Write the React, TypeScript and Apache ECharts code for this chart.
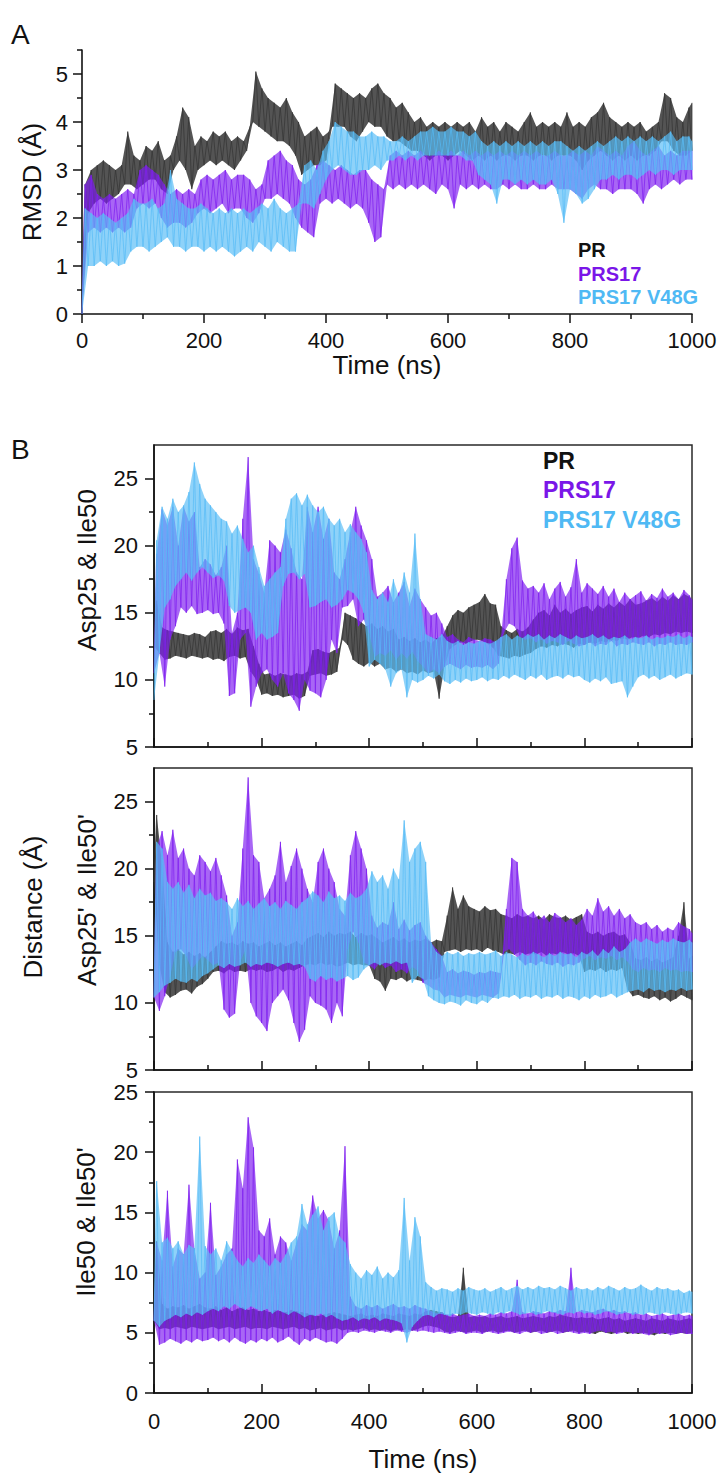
import React, { useEffect, useRef } from "react";
import * as echarts from "echarts";

// ---- sampling grid (ns) of the read-off envelopes ----
const timeNs: number[] = Array.from({ length: 101 }, (_, i) => i * 10);

// ---- tick values ----
const xMajorTicks = [0, 200, 400, 600, 800, 1000];
const rmsdMajorTicks = [0, 1, 2, 3, 4, 5];
const rmsdMinorTicks = [0.5, 1.5, 2.5, 3.5, 4.5, 5.5];
const distMajorTicks = [5, 10, 15, 20, 25];
const distMinorTicks = [7.5, 12.5, 17.5, 22.5];
const ileMajorTicks = [0, 5, 10, 15, 20, 25];
const ileMinorTicks = [2.5, 7.5, 12.5, 17.5, 22.5];

const seriesNames = ["PR", "PRS17", "PRS17 V48G"];

// ---- Panel A: RMSD (Å), upper / lower envelope every 10 ns ----
const rmsdPRHi = [
  2.7, 3.0, 3.1, 3.2, 3.1, 3.0, 3.1, 3.8, 3.3, 3.2,
  3.5, 3.4, 3.6, 3.2, 3.3, 3.7, 4.3, 4.1, 3.5, 3.7,
  3.6, 3.8, 3.7, 3.8, 3.6, 3.7, 3.6, 3.9, 5.05, 4.7,
  4.5, 4.4, 4.3, 4.5, 4.2, 4.0, 3.7, 3.8, 3.9, 3.7,
  3.8, 4.8, 4.7, 4.6, 4.5, 4.6, 4.5, 4.7, 4.8, 4.6,
  4.5, 4.3, 4.4, 4.2, 4.0, 4.1, 3.9, 4.0, 3.9, 4.0,
  3.9, 4.0, 3.9, 4.0, 3.8, 4.1, 3.9, 4.0, 3.8, 4.0,
  3.9, 3.8, 4.0, 4.2, 3.9, 4.0, 3.9, 4.0, 3.9, 4.2,
  3.9, 4.0, 3.9, 4.1, 4.2, 4.4, 4.1, 4.0, 3.9, 4.0,
  3.9, 4.0, 3.8, 3.9, 4.0, 4.6, 4.5, 4.1, 4.0, 4.3,
  4.4,
];
const rmsdPRLo = [
  0, 2.1, 2.3, 2.4, 2.3, 2.4, 2.5, 2.7, 2.7, 2.6,
  2.7, 2.8, 2.8, 2.6, 2.5, 3.0, 3.2, 3.0, 2.6, 3.0,
  3.1, 3.2, 3.1, 3.2, 3.1, 3.0, 3.2, 3.4, 4.0, 3.9,
  3.8, 3.7, 3.6, 3.6, 3.5, 3.3, 2.9, 3.0, 3.1, 3.1,
  3.2, 3.9, 3.9, 3.9, 3.7, 3.6, 3.8, 4.0, 3.9, 3.9,
  3.7, 3.6, 3.6, 3.5, 3.4, 3.4, 3.3, 3.2, 3.3, 3.3,
  3.2, 3.3, 3.4, 3.3, 3.2, 3.3, 3.2, 3.3, 3.2, 3.3,
  3.3, 3.2, 3.3, 3.3, 3.2, 3.3, 3.3, 3.2, 3.3, 3.3,
  3.3, 3.2, 3.0, 3.2, 3.3, 3.4, 3.3, 3.2, 3.3, 3.2,
  3.3, 3.2, 3.3, 3.3, 3.4, 3.6, 3.6, 3.4, 3.3, 3.3,
  3.4,
];
const rmsdS17Hi = [
  2.7, 2.9, 2.5, 2.4, 2.5, 2.4, 2.5, 2.6, 2.5, 3.0,
  3.1, 3.0, 2.9, 2.7, 2.5, 2.6, 2.5, 2.6, 2.5, 2.8,
  2.9, 2.8, 2.9, 3.0, 2.8, 2.9, 2.9, 2.8, 2.6, 2.7,
  3.2, 3.3, 3.4, 3.2, 3.1, 2.8, 2.7, 2.8, 3.1, 3.2,
  3.1, 3.0, 3.1, 3.0, 2.9, 3.0, 3.0, 2.8, 2.7, 2.6,
  3.3, 3.4, 3.3, 3.4, 3.3, 3.4, 3.3, 3.3, 3.4, 3.3,
  3.4, 3.3, 3.4, 3.3, 3.4, 3.3, 3.4, 3.3, 3.4, 3.3,
  3.4, 3.3, 3.4, 3.3, 3.4, 3.3, 3.3, 3.4, 3.3, 3.3,
  3.4, 3.3, 3.4, 3.3, 3.5, 3.4, 3.3, 3.4, 3.3, 3.5,
  3.6, 3.4, 3.3, 3.4, 3.5, 3.3, 3.4, 3.3, 3.4, 3.4,
  3.4,
];
const rmsdS17Lo = [
  0, 1.7, 1.8, 1.7, 1.8, 1.7, 1.8, 1.7, 1.8, 2.2,
  2.3, 2.2, 2.3, 2.0, 1.8, 1.9, 1.9, 1.8, 1.9, 2.1,
  2.2, 2.1, 2.2, 2.3, 2.1, 2.2, 2.2, 2.0, 1.9, 2.1,
  2.4, 2.4, 2.5, 2.4, 2.3, 2.0, 1.8, 1.7, 1.6, 2.3,
  2.4, 2.3, 2.4, 2.3, 2.2, 2.3, 2.2, 1.9, 1.5, 1.6,
  2.7, 2.6, 2.7, 2.6, 2.7, 2.6, 2.7, 2.6, 2.5, 2.7,
  2.6, 2.2, 2.7, 2.6, 2.7, 2.6, 2.7, 2.6, 2.6, 2.7,
  2.6, 2.7, 2.6, 2.6, 2.7, 2.6, 2.6, 2.7, 2.6, 2.6,
  2.6, 2.5, 2.4, 2.6, 2.7, 2.6, 2.6, 2.5, 2.6, 2.6,
  2.6, 2.5, 2.3, 2.6, 2.7, 2.6, 2.7, 2.8, 2.7, 2.8,
  2.8,
];
const rmsdV48GHi = [
  2.2, 2.1, 2.0, 2.1, 2.0, 1.9, 2.0, 2.1, 2.4, 2.3,
  2.3, 2.4, 2.2, 2.3, 3.0, 2.4, 2.3, 2.2, 2.2, 2.3,
  2.2, 2.1, 2.2, 2.1, 2.2, 2.1, 2.2, 2.1, 2.2, 2.3,
  2.2, 2.4, 2.2, 2.1, 2.2, 2.3, 3.1, 3.2, 3.0, 3.4,
  3.6, 4.0, 3.9, 3.8, 3.8, 3.7, 3.7, 3.8, 3.7, 3.7,
  3.6, 3.6, 3.7, 3.6, 3.7, 3.8, 3.8, 3.9, 3.8, 3.8,
  3.9, 3.8, 3.8, 3.7, 3.8, 3.6, 3.5, 3.6, 3.5, 3.6,
  3.5, 3.6, 3.5, 3.6, 3.5, 3.6, 3.5, 3.6, 3.6, 3.5,
  3.4, 3.5, 3.4, 3.5, 3.6, 3.5, 3.6, 3.7, 3.6, 3.7,
  3.6, 3.7, 3.6, 3.7, 3.6, 3.7, 3.8, 3.6, 3.7, 3.7,
  3.6,
];
const rmsdV48GLo = [
  0, 1.0, 1.0, 1.1, 1.0, 1.1, 1.0, 1.05, 1.3, 1.4,
  1.4, 1.3, 1.4, 1.5, 1.6, 1.4, 1.4, 1.3, 1.4, 1.4,
  1.3, 1.4, 1.3, 1.4, 1.3, 1.2, 1.3, 1.4, 1.3, 1.5,
  1.4, 1.3, 1.5, 1.4, 1.3, 1.3, 2.3, 2.3, 2.2, 2.5,
  2.8, 3.0, 3.1, 3.0, 2.9, 2.9, 3.0, 3.0, 3.1, 3.0,
  3.2, 3.2, 3.3, 3.2, 3.3, 3.2, 3.3, 3.3, 3.3, 3.3,
  3.3, 3.3, 3.3, 3.2, 3.2, 2.9, 2.8, 2.7, 2.3, 2.8,
  2.8, 2.7, 2.8, 2.7, 2.8, 2.7, 2.7, 2.8, 2.5, 1.9,
  2.6, 2.5, 2.3, 2.4, 2.6, 2.8, 2.8, 2.9, 2.8, 2.9,
  2.9, 2.8, 2.9, 3.0, 2.9, 3.0, 3.0, 2.9, 3.0, 3.0,
  3.0,
];

// ---- Panel B1: Asp25 & Ile50 distance (Å) ----
const b1PRHi = [
  15.9, 13.9, 13.7, 13.6, 13.5, 13.4, 13.3, 13.5, 13.4, 13.2,
  13.6, 13.7, 13.5, 13.8, 13.4, 13.9, 13.7, 13.8, 12.5, 11.2,
  10.4, 10.5, 10.3, 10.5, 10.4, 10.3, 10.5, 10.4, 10.6, 12.2,
  12.3, 12.1, 12.0, 12.2, 12.4, 15.0, 14.8, 14.6, 14.3, 14.0,
  14.2, 13.8, 14.0, 13.6, 13.8, 13.0, 13.2, 12.9, 13.1, 12.8,
  13.0, 12.7, 13.1, 13.2, 14.0, 14.8, 15.2, 15.0, 15.4, 15.6,
  15.8, 16.4, 15.7, 15.6, 14.0, 13.7, 13.5, 13.8, 13.6, 13.9,
  14.5, 15.0, 15.2, 14.8, 15.6, 15.0, 15.3, 14.9, 15.2, 15.4,
  15.5, 15.1, 15.6, 15.3, 15.7, 15.4, 15.8, 15.5, 16.0, 15.6,
  15.7, 15.9, 16.1, 15.8, 16.2, 15.9, 16.3, 16.0, 16.4, 16.2,
  16.0,
];
const b1PRLo = [
  12.5, 12.0, 11.5, 11.6, 11.8, 11.7, 11.6, 11.8, 11.7, 11.6,
  11.7, 11.5, 11.6, 11.4, 11.7, 11.8, 11.6, 11.7, 10.6, 10.0,
  8.9, 9.0, 8.8, 8.9, 8.7, 8.8, 8.9, 8.6, 8.8, 10.3,
  10.4, 10.5, 10.3, 10.4, 10.6, 13.0, 12.6, 11.5, 11.2, 11.0,
  11.3, 11.0, 11.2, 10.8, 10.9, 10.6, 10.8, 10.5, 10.6, 10.4,
  10.7, 10.5, 10.6, 8.6, 11.0, 12.3, 12.6, 12.8, 12.7, 12.9,
  13.0, 12.9, 12.7, 12.4, 11.8, 11.7, 11.6, 11.8, 11.7, 11.9,
  12.0, 12.3, 12.5, 12.4, 12.6, 12.5, 12.7, 12.6, 12.4, 12.7,
  12.6, 12.8, 12.7, 12.9, 12.8, 13.0, 12.9, 13.1, 13.0, 13.2,
  13.1, 13.3, 13.2, 13.4, 13.3, 13.5, 13.4, 13.6, 13.5, 13.6,
  13.5,
];
const b1S17Hi = [
  19.4, 22.7, 21.5, 22.9, 20.0, 22.9, 21.8, 22.5, 18.4, 19.0,
  18.6, 17.8, 18.4, 20.0, 13.5, 15.0, 22.0, 26.6, 19.0, 17.9,
  16.5, 20.4, 20.0, 19.5, 21.2, 19.8, 18.0, 17.5, 22.9, 21.0,
  22.9, 20.5, 22.0, 18.0, 17.5, 19.0, 21.0, 22.9, 21.5, 20.4,
  19.0, 16.2, 16.5, 17.0, 15.8, 16.5, 17.3, 15.5, 16.8, 16.0,
  15.4, 14.8, 15.0, 14.2, 13.2, 13.4, 13.0, 12.8, 13.2, 13.0,
  12.9, 13.1, 13.0, 12.8, 13.2, 17.5, 19.8, 20.6, 17.4, 16.8,
  17.0, 16.5, 17.2, 16.0, 16.8, 17.3, 16.2, 16.9, 19.0, 16.5,
  17.2, 16.8, 16.4, 17.0, 16.2, 16.8, 15.8, 16.5, 16.0, 16.3,
  16.6, 15.9, 16.4, 16.1, 16.8, 16.2, 16.5, 16.0, 16.7, 16.3,
  16.0,
];
const b1S17Lo = [
  10.5, 12.0, 9.5, 13.0, 14.0, 15.4, 15.0, 15.5, 14.9, 15.0,
  15.2, 14.9, 15.0, 14.2, 8.8, 9.0, 13.0, 13.5, 8.0, 9.5,
  10.5, 10.8, 10.0, 9.5, 10.5, 9.0, 8.5, 7.7, 10.0, 9.2,
  9.0, 8.7, 10.0, 13.0, 12.0, 15.4, 15.5, 16.0, 14.0, 14.5,
  13.5, 11.7, 12.0, 11.8, 12.2, 11.5, 12.0, 11.6, 12.1, 11.4,
  11.0, 10.5, 10.8, 10.5, 11.0, 11.2, 11.0, 10.8, 11.1, 10.9,
  11.0, 10.9, 11.1, 10.8, 11.2, 13.5, 14.2, 14.0, 13.2, 13.0,
  13.1, 12.8, 13.0, 12.7, 12.9, 12.8, 12.6, 12.9, 12.7, 12.5,
  12.6, 12.8, 12.5, 12.7, 12.6, 12.9, 12.5, 12.7, 12.6, 12.8,
  12.7, 12.6, 12.8, 12.5, 12.7, 12.6, 12.8, 12.6, 12.7, 12.6,
  12.8,
];
const b1V48GHi = [
  20.4, 22.9, 22.0, 23.5, 22.5, 23.0, 24.0, 26.2, 24.6, 23.5,
  23.0, 22.5, 22.0, 21.8, 20.9, 21.5, 20.5, 19.5, 20.0, 18.4,
  17.0, 17.5, 18.0, 18.4, 22.0, 23.5, 23.9, 23.0, 23.8, 23.0,
  22.5, 22.9, 22.0, 21.5, 22.0, 21.0, 21.6, 21.0, 20.5, 19.5,
  16.7, 16.0, 16.5, 15.8, 17.5, 16.2, 18.0, 16.5, 20.9, 16.0,
  13.4, 13.2, 13.0, 13.4, 12.9, 12.7, 12.9, 12.6, 12.8, 12.7,
  12.9, 12.8, 12.7, 12.9, 13.2, 13.4, 13.0, 13.3, 13.1, 13.4,
  13.2, 13.4, 13.0, 13.3, 13.1, 13.4, 13.2, 13.0, 13.3, 13.1,
  13.2, 13.4, 13.1, 13.3, 13.0, 13.2, 13.1, 13.3, 13.0, 13.2,
  13.1, 13.3, 13.0, 13.2, 13.1, 13.3, 13.2, 13.4, 13.1, 13.3,
  13.2,
];
const b1V48GLo = [
  8.5, 12.0, 15.4, 16.0, 17.0, 17.5, 18.0, 17.4, 18.0, 18.4,
  18.0, 17.6, 17.8, 17.4, 15.5, 15.0, 15.2, 15.4, 15.0, 13.0,
  13.5, 13.0, 13.2, 13.5, 17.0, 17.9, 18.0, 17.5, 17.9, 15.4,
  15.5, 15.8, 16.0, 15.4, 15.6, 16.0, 16.7, 16.5, 16.0, 15.0,
  11.0, 11.5, 11.2, 10.8, 9.5, 10.5, 10.8, 8.7, 10.0, 9.8,
  10.0, 10.3, 10.1, 10.4, 9.9, 9.7, 10.0, 9.8, 10.1, 9.9,
  10.0, 10.2, 9.9, 10.1, 10.0, 10.3, 10.1, 10.4, 10.2, 10.0,
  10.3, 10.1, 10.4, 10.0, 10.2, 10.3, 10.1, 10.4, 10.2, 10.3,
  10.0, 9.8, 10.1, 9.9, 10.2, 9.7, 9.8, 9.9, 8.7, 9.5,
  10.2, 10.4, 10.1, 10.3, 10.0, 10.2, 10.4, 10.1, 10.3, 10.5,
  10.4,
];

// ---- Panel B2: Asp25' & Ile50' distance (Å) ----
const b2PRHi = [
  24.0, 20.3, 14.5, 13.8, 14.0, 13.6, 13.8, 13.5, 13.7, 13.4,
  13.8, 14.2, 14.6, 14.4, 14.5, 14.3, 14.6, 14.4, 14.5, 14.2,
  14.4, 14.6, 14.3, 14.5, 14.2, 14.4, 14.6, 14.3, 14.8, 15.0,
  15.2, 14.9, 15.3, 15.0, 15.2, 15.1, 15.3, 14.9, 15.2, 15.0,
  15.1, 14.8, 14.5, 14.7, 14.9, 14.6, 14.8, 14.5, 14.7, 14.6,
  14.8, 14.5, 14.7, 14.6, 16.5, 18.6, 17.0, 18.0, 17.2, 17.0,
  16.8, 17.2, 16.9, 17.0, 16.6, 16.5, 16.3, 16.6, 16.4, 16.5,
  16.3, 16.5, 16.2, 16.6, 16.4, 16.3, 16.5, 16.2, 16.4, 16.6,
  15.3, 15.1, 15.3, 15.0, 15.2, 15.3, 15.0, 15.1, 14.5, 13.3,
  13.2, 13.4, 13.1, 13.3, 13.0, 13.2, 13.4, 15.0, 17.5, 13.3,
  13.5,
];
const b2PRLo = [
  19.0, 12.8, 10.8, 10.4, 10.6, 10.9, 11.0, 10.7, 11.2, 11.4,
  11.8, 12.3, 12.4, 12.2, 12.5, 12.3, 12.4, 12.3, 12.5, 12.4,
  12.5, 12.3, 12.4, 12.6, 12.3, 12.5, 12.4, 12.6, 12.8, 12.9,
  12.8, 13.0, 12.8, 12.9, 12.7, 12.8, 13.0, 12.8, 12.9, 12.8,
  12.8, 11.8, 11.6, 10.9, 11.8, 11.7, 11.9, 11.6, 11.8, 11.7,
  11.6, 11.8, 11.7, 11.9, 13.8, 13.9, 14.0, 13.8, 14.0, 13.9,
  14.0, 13.8, 14.1, 13.9, 13.8, 13.6, 13.7, 13.6, 13.8, 13.6,
  13.7, 13.6, 13.8, 13.5, 13.7, 13.6, 13.8, 13.6, 13.7, 13.5,
  12.3, 12.5, 12.4, 12.6, 12.3, 12.5, 12.4, 12.6, 11.0, 10.5,
  10.6, 10.4, 10.3, 10.5, 10.2, 10.4, 10.1, 10.3, 10.6, 10.4,
  10.2,
];
const b2S17Hi = [
  21.6, 22.8, 21.0, 22.9, 20.8, 21.5, 20.0, 19.5, 21.0, 20.5,
  19.8, 20.8, 19.5, 18.0, 15.0, 16.0, 21.5, 26.8, 21.0, 20.5,
  17.8, 18.5, 19.5, 22.0, 19.0, 20.2, 21.5, 20.0, 18.5, 17.5,
  20.5, 21.5, 20.0, 19.0, 17.0, 16.5, 21.0, 22.8, 21.5, 20.0,
  16.5, 15.6, 16.0, 15.8, 17.5, 15.5, 16.2, 15.4, 15.8, 16.0,
  15.0, 14.5, 14.0, 13.5, 12.3, 12.5, 12.2, 12.4, 12.3, 12.1,
  12.3, 12.2, 12.4, 12.3, 12.2, 17.0, 20.8, 20.5, 17.0, 16.5,
  16.8, 16.2, 16.5, 16.0, 16.7, 16.4, 16.0, 16.3, 15.8, 16.2,
  17.0, 16.5, 17.8, 16.8, 17.2, 16.5, 17.0, 16.3, 16.6, 16.0,
  15.8, 16.0, 15.5, 15.8, 15.3, 15.6, 15.4, 16.0, 15.7, 15.5,
  15.2,
];
const b2S17Lo = [
  10.4, 9.4, 10.5, 12.0, 13.8, 14.0, 13.5, 12.5, 13.0, 13.5,
  13.2, 12.8, 13.0, 9.5, 8.9, 9.2, 13.0, 14.0, 10.0, 9.0,
  8.5, 7.9, 10.0, 10.5, 11.0, 10.2, 8.5, 7.1, 8.0, 10.5,
  10.0, 9.8, 9.5, 8.5, 10.0, 9.0, 14.0, 15.3, 14.5, 13.0,
  12.8, 12.5, 13.0, 12.6, 12.8, 12.3, 12.5, 12.2, 12.7, 12.4,
  11.5, 11.3, 11.0, 10.9, 10.4, 10.6, 10.5, 10.4, 10.6, 10.5,
  10.4, 10.6, 10.5, 10.4, 10.7, 13.8, 14.0, 13.6, 13.2, 12.8,
  13.0, 12.8, 13.1, 12.9, 12.8, 13.0, 12.7, 12.9, 12.8, 13.0,
  13.3, 13.5, 13.2, 13.4, 13.3, 13.5, 13.2, 13.4, 13.1, 12.5,
  12.3, 12.6, 12.4, 12.5, 12.3, 12.6, 12.4, 12.5, 12.3, 12.4,
  12.3,
];
const b2V48GHi = [
  22.0, 21.5, 19.0, 18.5, 19.0, 18.2, 18.8, 17.8, 18.5, 18.0,
  18.2, 17.6, 17.8, 17.5, 17.0, 17.8, 17.2, 17.6, 17.0, 17.4,
  17.8, 17.2, 17.5, 17.0, 17.6, 17.3, 17.0, 17.5, 17.8, 18.3,
  18.0, 17.5, 18.3, 17.8, 18.0, 17.6, 18.2, 17.8, 18.0, 18.5,
  19.8, 19.0, 19.5, 18.5, 20.0, 19.2, 23.6, 20.5, 21.5, 22.0,
  20.5, 14.5, 13.8, 13.5, 13.8, 13.6, 13.8, 13.5, 13.7, 13.6,
  13.8, 13.6, 13.7, 13.9, 13.5, 13.8, 13.6, 13.4, 13.7, 13.5,
  13.8, 13.6, 13.4, 13.7, 13.5, 13.8, 13.6, 13.7, 13.4, 13.8,
  13.6, 13.9, 13.5, 14.0, 13.7, 14.2, 13.8, 14.0, 14.5, 14.8,
  14.5, 14.8, 14.6, 14.4, 14.7, 14.5, 14.8, 14.6, 14.5, 14.7,
  14.5,
];
const b2V48GLo = [
  10.4, 10.8, 11.3, 11.5, 11.8, 11.6, 11.5, 11.8, 11.6, 12.0,
  12.2, 12.5, 12.8, 12.6, 12.9, 12.7, 12.8, 13.0, 12.7, 12.9,
  12.8, 13.0, 12.9, 12.7, 12.9, 13.0, 12.8, 12.9, 12.7, 11.8,
  11.6, 12.0, 11.7, 11.9, 11.6, 11.8, 12.0, 11.7, 11.9, 12.5,
  12.8, 13.0, 12.8, 13.0, 12.9, 13.1, 12.9, 13.0, 11.5, 12.0,
  11.8, 10.5, 10.2, 10.0, 9.9, 10.1, 10.0, 9.8, 10.2, 10.0,
  9.9, 10.2, 10.0, 10.4, 10.3, 10.5, 10.4, 10.6, 10.3, 10.5,
  10.4, 10.6, 10.3, 10.5, 10.4, 10.6, 10.3, 10.5, 10.4, 10.2,
  10.5, 10.3, 10.6, 10.4, 10.5, 10.7, 10.4, 10.6, 10.8, 10.9,
  11.0, 10.8, 11.1, 10.9, 11.0, 10.8, 11.0, 10.9, 11.1, 10.9,
  11.0,
];

// ---- Panel B3: Ile50 & Ile50' distance (Å) ----
const b3PRHi = [
  12.6, 7.4, 7.0, 7.2, 7.1, 7.3, 7.0, 7.2, 7.4, 7.1,
  7.0, 7.2, 6.9, 7.1, 6.8, 7.0, 7.1, 6.9, 7.0, 6.8,
  6.9, 6.7, 6.9, 6.8, 6.7, 6.9, 6.8, 6.7, 6.6, 6.5,
  6.4, 6.5, 6.6, 6.7, 6.6, 6.5, 6.4, 6.5, 6.6, 6.4,
  6.5, 6.4, 6.6, 6.5, 6.4, 6.6, 6.5, 6.4, 6.6, 6.5,
  6.8, 6.9, 6.8, 6.7, 6.4, 6.3, 6.4, 10.4, 6.3, 6.4,
  6.3, 6.4, 6.2, 6.3, 6.4, 6.2, 6.3, 6.4, 6.2, 6.3,
  6.4, 6.3, 6.2, 6.4, 6.3, 6.5, 6.4, 6.3, 6.2, 6.3,
  6.2, 6.3, 6.1, 6.2, 6.3, 6.1, 6.2, 6.0, 6.1, 6.2,
  6.1, 6.0, 6.2, 6.1, 6.0, 6.2, 6.1, 6.0, 6.1, 6.2,
  6.1,
];
const b3PRLo = [
  6.0, 5.3, 5.4, 5.3, 5.5, 5.4, 5.3, 5.5, 5.4, 5.3,
  5.4, 5.5, 5.3, 5.4, 5.5, 5.3, 5.4, 5.5, 5.3, 5.4,
  5.4, 5.3, 5.5, 5.4, 5.3, 5.4, 5.5, 5.3, 5.4, 5.2,
  5.3, 5.4, 5.2, 5.3, 5.4, 5.2, 5.3, 5.2, 5.3, 5.4,
  5.2, 5.3, 5.2, 5.3, 5.1, 5.3, 5.2, 5.3, 5.2, 5.3,
  5.5, 5.6, 5.5, 5.4, 5.1, 5.0, 5.2, 5.1, 5.0, 5.1,
  5.2, 5.0, 5.1, 5.2, 5.0, 5.1, 5.2, 5.0, 5.1, 5.2,
  5.0, 5.1, 5.2, 5.0, 5.1, 5.2, 5.0, 5.1, 5.2, 5.0,
  5.1, 5.0, 4.9, 5.1, 5.0, 4.9, 5.0, 5.1, 4.9, 5.0,
  4.9, 5.0, 4.9, 4.8, 5.0, 4.9, 5.0, 4.9, 5.0, 4.9,
  5.0,
];
const b3S17Hi = [
  12.5, 11.0, 16.8, 10.5, 12.0, 11.5, 17.3, 12.0, 9.5, 10.0,
  15.8, 9.8, 10.5, 11.5, 12.0, 19.4, 17.0, 22.9, 20.4, 13.5,
  13.0, 14.5, 11.5, 13.0, 12.5, 11.0, 12.5, 14.0, 13.5, 16.4,
  14.5, 15.2, 14.3, 12.0, 13.5, 20.5, 8.0, 7.2, 7.0, 7.3,
  7.1, 7.3, 7.0, 7.2, 7.4, 7.1, 7.2, 7.0, 7.3, 7.1,
  7.0, 6.8, 6.6, 6.7, 6.5, 6.6, 6.4, 6.5, 6.6, 6.4,
  6.5, 6.4, 6.6, 6.5, 6.7, 6.6, 6.8, 9.4, 6.7, 6.6,
  6.8, 6.7, 6.6, 6.8, 6.7, 6.9, 6.8, 10.4, 6.7, 6.9,
  6.8, 6.7, 6.9, 7.0, 6.8, 6.9, 6.7, 6.8, 6.6, 6.7,
  6.5, 6.6, 6.4, 6.5, 6.6, 6.4, 6.5, 6.6, 6.4, 6.5,
  6.4,
];
const b3S17Lo = [
  6.0, 4.0, 4.2, 4.5, 4.3, 4.1, 4.4, 4.2, 4.5, 4.3,
  4.4, 4.6, 4.3, 4.5, 4.2, 4.6, 4.3, 4.1, 4.4, 4.2,
  4.5, 4.3, 4.6, 4.2, 4.4, 4.7, 4.3, 4.0, 4.5, 4.3,
  4.6, 4.4, 4.2, 4.3, 4.1, 4.5, 5.0, 5.1, 5.0, 5.2,
  5.1, 5.0, 5.2, 5.1, 5.0, 5.2, 5.1, 5.0, 5.2, 5.1,
  5.2, 5.1, 5.0, 5.1, 5.0, 4.9, 5.0, 5.1, 4.9, 5.0,
  5.0, 4.9, 5.1, 5.0, 4.9, 5.0, 5.1, 5.0, 4.9, 5.1,
  5.0, 5.1, 4.9, 5.0, 5.1, 4.9, 5.0, 5.1, 5.0, 4.9,
  5.0, 4.9, 5.1, 5.2, 5.0, 5.1, 4.9, 5.0, 5.1, 4.9,
  5.0, 4.9, 4.8, 5.0, 4.9, 5.0, 4.8, 4.9, 5.0, 4.9,
  4.9,
];
const b3V48GHi = [
  17.6, 12.5, 12.9, 12.0, 12.6, 11.5, 12.3, 12.0, 21.3, 12.2,
  11.5, 12.0, 11.0, 12.6, 11.8, 11.0, 10.5, 11.2, 10.8, 11.5,
  11.0, 10.5, 11.2, 10.8, 11.5, 12.5, 13.0, 15.7, 14.0, 14.8,
  15.5, 13.5, 14.6, 15.0, 13.0, 12.5, 10.7, 10.0, 9.5, 10.2,
  9.8, 10.5, 9.5, 10.0, 9.6, 10.2, 16.2, 11.0, 14.6, 13.0,
  9.2, 8.8, 8.5, 8.7, 8.6, 8.4, 8.7, 8.5, 8.8, 8.6,
  8.5, 8.7, 8.4, 8.6, 8.8, 8.5, 8.7, 8.9, 8.6, 8.8,
  8.6, 8.9, 8.7, 8.8, 8.6, 8.9, 8.7, 8.5, 8.8, 8.6,
  8.7, 8.5, 8.8, 8.6, 8.9, 8.7, 8.5, 8.8, 8.6, 8.7,
  9.0, 8.7, 8.5, 8.8, 8.6, 8.7, 8.5, 8.6, 8.3, 8.5,
  8.4,
];
const b3V48GLo = [
  6.0, 5.5, 6.0, 6.2, 6.5, 6.3, 6.6, 6.4, 6.7, 6.5,
  6.8, 7.0, 6.8, 7.2, 7.0, 7.4, 7.1, 6.9, 7.2, 7.0,
  6.8, 7.0, 6.6, 6.9, 6.7, 6.5, 6.8, 6.6, 6.3, 6.5,
  6.4, 6.6, 6.3, 6.5, 6.2, 6.0, 6.1, 6.3, 6.0, 6.2,
  6.1, 6.3, 6.0, 6.2, 6.1, 6.0, 5.8, 4.2, 5.5, 6.0,
  6.4, 6.5, 6.3, 6.6, 6.5, 6.4, 6.6, 6.5, 6.7, 6.6,
  6.5, 6.7, 6.6, 6.5, 6.7, 6.6, 6.8, 6.7, 6.5, 6.6,
  6.7, 6.5, 6.6, 6.8, 6.7, 6.6, 6.5, 6.7, 6.6, 6.8,
  6.6, 6.7, 6.5, 6.6, 6.8, 6.7, 6.5, 6.6, 6.7, 6.5,
  6.6, 6.5, 6.7, 6.6, 6.5, 6.7, 6.6, 6.5, 6.6, 6.7,
  6.6,
];

// ---- styling ----
const FONT = "'Liberation Sans', Arial, Helvetica, sans-serif";
const INK = "#111111";
const colors = ["#363636", "#7f1ef0", "#58bcf6"];
const legendColors = ["#111111", "#7a16e8", "#4fb9f4"];
const bandOpacity = [0.85, 0.68, 0.68];
const lineOpacity = [0.95, 0.9, 0.9];

// Trace that alternates between the read-off lower and upper envelope values
function trace(lo: number[], hi: number[]): number[][] {
  const pts: number[][] = [];
  for (let i = 0; i < timeNs.length; i++) {
    const t = timeNs[i];
    const tMid = i < timeNs.length - 1 ? (t + timeNs[i + 1]) / 2 : t;
    pts.push([t, lo[i]]);
    pts.push([tMid, hi[i]]);
  }
  return pts;
}

const panels = [
  { lo: [rmsdPRLo, rmsdS17Lo, rmsdV48GLo], hi: [rmsdPRHi, rmsdS17Hi, rmsdV48GHi] },
  { lo: [b1PRLo, b1S17Lo, b1V48GLo], hi: [b1PRHi, b1S17Hi, b1V48GHi] },
  { lo: [b2PRLo, b2S17Lo, b2V48GLo], hi: [b2PRHi, b2S17Hi, b2V48GHi] },
  { lo: [b3PRLo, b3S17Lo, b3V48GLo], hi: [b3PRHi, b3S17Hi, b3V48GHi] },
];

function buildOption(): any {
  const boxed = { show: true, borderColor: "#2a2a2a", borderWidth: 1.5, backgroundColor: "transparent" };
  const grids = [
    { left: 82, top: 50, width: 610, height: 264 },
    { left: 154, top: 445, width: 538, height: 302, ...boxed },
    { left: 154, top: 768, width: 538, height: 302, ...boxed },
    { left: 154, top: 1092, width: 538, height: 301, ...boxed },
  ];
  const axisLine = { show: true, onZero: false, lineStyle: { color: INK, width: 1.6 } };
  const labelStyle = { color: INK, fontFamily: FONT, fontSize: 22 };

  const xAxis = grids.map((_, g) => ({
    type: "value",
    gridIndex: g,
    min: 0,
    max: 1000,
    interval: 200,
    axisLine,
    axisTick: { show: true, inside: g > 0, length: 9, lineStyle: { color: INK, width: 1.5 } },
    minorTick: { show: true, splitNumber: 2, length: 5, lineStyle: { color: INK, width: 1.5 } },
    axisLabel: {
      show: g === 0 || g === 3,
      margin: g === 0 ? 15 : 17,
      ...labelStyle,
      customValues: xMajorTicks,
      formatter: (v: number) => String(v),
    },
    splitLine: { show: false },
    name: g === 0 || g === 3 ? "Time (ns)" : "",
    nameLocation: "middle",
    nameGap: g === 0 ? 25 : 53,
    nameTextStyle: { color: INK, fontFamily: FONT, fontSize: 26, verticalAlign: "top" },
  }));

  const yRanges = [
    { min: 0, max: 5.5, major: rmsdMajorTicks, minor: rmsdMinorTicks },
    { min: 5, max: 27.5, major: distMajorTicks, minor: distMinorTicks },
    { min: 5, max: 27.5, major: distMajorTicks, minor: distMinorTicks },
    { min: 0, max: 25, major: ileMajorTicks, minor: ileMinorTicks },
  ];
  const yAxis: any[] = [];
  yRanges.forEach((r, g) => {
    yAxis.push({
      type: "value",
      gridIndex: g,
      min: r.min,
      max: r.max,
      position: "left",
      axisLine,
      axisTick: { show: true, length: 9, customValues: r.major, lineStyle: { color: INK, width: 1.5 } },
      axisLabel: { show: true, margin: g === 0 ? 14 : 16, ...labelStyle, customValues: r.major },
      splitLine: { show: false },
    });
    yAxis.push({
      type: "value",
      gridIndex: g,
      min: r.min,
      max: r.max,
      position: "left",
      axisLine: { show: false, onZero: false },
      axisTick: { show: true, length: 5, customValues: r.minor, lineStyle: { color: INK, width: 1.5 } },
      axisLabel: { show: false },
      splitLine: { show: false },
    });
  });

  const series: any[] = [];
  panels.forEach((p, g) => {
    for (let s = 0; s < 3; s++) {
      const lo = p.lo[s];
      const hi = p.hi[s];
      const color = colors[s];
      const op = bandOpacity[s];
      // filled band between the lower and upper envelopes (one polygon)
      series.push({
        type: "custom",
        name: seriesNames[s],
        xAxisIndex: g,
        yAxisIndex: g * 2,
        data: timeNs.map((t, i) => [t, lo[i], hi[i]]),
        encode: { x: 0, y: [1, 2] },
        silent: true,
        clip: true,
        z: 2 + s * 2,
        renderItem: (params: any, api: any) => {
          if (params.dataIndex !== 0) return null;
          const pts: number[][] = [];
          for (let i = 0; i < timeNs.length; i++) {
            const tMid = i < timeNs.length - 1 ? (timeNs[i] + timeNs[i + 1]) / 2 : timeNs[i];
            pts.push(api.coord([tMid, hi[i]]));
          }
          for (let i = timeNs.length - 1; i >= 0; i--) pts.push(api.coord([timeNs[i], lo[i]]));
          return {
            type: "polygon",
            shape: { points: pts },
            style: { fill: color, opacity: op },
          };
        },
      });
      // fluctuating trace
      series.push({
        type: "line",
        name: seriesNames[s],
        xAxisIndex: g,
        yAxisIndex: g * 2,
        data: trace(lo, hi),
        showSymbol: false,
        symbol: "none",
        silent: true,
        lineStyle: { color, width: 0.8, opacity: lineOpacity[s] },
        z: 3 + s * 2,
      });
    }
  });

  const text = (x: number, y: number, t: string, size: number, extra: any = {}) => ({
    type: "text",
    x,
    y,
    rotation: extra.rotation || 0,
    z: 10,
    style: {
      text: t,
      fill: extra.fill || INK,
      font: `${extra.weight || "normal"} ${size}px ${FONT}`,
      align: extra.align || "center",
      verticalAlign: "middle",
    },
  });
  const rot = Math.PI / 2;

  const graphic = [
    text(11, 34, "A", 28, { align: "left" }),
    text(11, 449, "B", 28, { align: "left" }),
    text(32, 182, "RMSD (Å)", 26, { rotation: rot }),
    text(87, 570, "Asp25 & Ile50", 26, { rotation: rot }),
    text(33, 907, "Distance (Å)", 26, { rotation: rot }),
    text(87, 900, "Asp25' & Ile50'", 26, { rotation: rot }),
    text(86, 1222, "Ile50 & Ile50'", 26, { rotation: rot }),
    // legend, panel A
    text(578, 250, seriesNames[0], 20, { align: "left", weight: "bold", fill: legendColors[0] }),
    text(578, 273.5, seriesNames[1], 20, { align: "left", weight: "bold", fill: legendColors[1] }),
    text(578, 297, seriesNames[2], 20, { align: "left", weight: "bold", fill: legendColors[2] }),
    // legend, panel B
    text(543, 460.5, seriesNames[0], 23, { align: "left", weight: "bold", fill: legendColors[0] }),
    text(543, 490, seriesNames[1], 23, { align: "left", weight: "bold", fill: legendColors[1] }),
    text(543, 520, seriesNames[2], 23, { align: "left", weight: "bold", fill: legendColors[2] }),
  ];

  return {
    animation: false,
    backgroundColor: "#ffffff",
    textStyle: { fontFamily: FONT },
    grid: grids,
    xAxis,
    yAxis,
    series,
    graphic,
  };
}

export default function App() {
  const ref = useRef<HTMLDivElement>(null);
  useEffect(() => {
    if (!ref.current) return;
    const chart = echarts.init(ref.current, undefined, { renderer: "svg" });
    chart.setOption(buildOption());
    return () => chart.dispose();
  }, []);
  return (
    <div
      ref={ref}
      style={{ position: "absolute", left: 0, top: 0, width: 720, height: 1475, background: "#fff" }}
    />
  );
}
